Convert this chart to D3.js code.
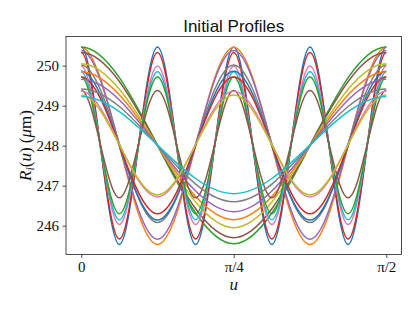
<!DOCTYPE html>
<html>
<head>
<meta charset="utf-8">
<script src="https://cdn.jsdelivr.net/npm/d3@7"></script>
<style>
  body { margin: 0; background: #fff; }
  svg { display: block; }
</style>
</head>
<body>
<svg id="vis" width="419" height="314"></svg>
<script>
'use strict';

// mode number of each profile (number of peaks around the full turn)
var modes = [16, 8, 4, 16, 8, 4, 16, 8, 4, 16, 8, 4, 16, 8, 4, 16, 8, 4, 8, 4];
// value at the peaks (u = 0) and at the troughs, in micrometres
var peaks = [250.47, 250.46, 250.47, 250.33, 250.38, 250.33, 249.99, 250.02, 250.05, 249.85,
             249.86, 249.85, 249.72, 249.72, 249.66, 249.38, 249.36, 249.42, 249.27, 249.23];
var troughs = [245.53, 245.53, 245.55, 245.67, 245.66, 245.70, 246.03, 246.08, 245.95, 246.15,
               246.14, 246.15, 246.30, 246.30, 246.35, 246.70, 246.72, 246.60, 246.77, 246.80];

var xTickValues = [0, Math.PI / 4, Math.PI / 2];
var xTickLabels = ['0', 'π/4', 'π/2'];
var yTickValues = [246, 247, 248, 249, 250];

var colors = ['#1f77b4', '#ff7f0e', '#2ca02c', '#d62728', '#9467bd',
              '#8c564b', '#e377c2', '#7f7f7f', '#bcbd22', '#17becf'];

(function () {
    var plotLeft = 66, plotRight = 401.5, plotTop = 36.5, plotBottom = 254.5;

    var svg = d3.select('#vis');

    var x = d3.scaleLinear()
        .domain([-Math.PI / 40, Math.PI / 2 + Math.PI / 40])
        .range([plotLeft, plotRight]);
    var y = d3.scaleLinear()
        .domain([245.28, 250.73])
        .range([plotBottom, plotTop]);

    // cubic pieces with flat tangents at each point (points are peaks and troughs)
    function flatTurns(context) {
        var x0, y0, started;
        return {
            areaStart: function () {},
            areaEnd: function () {},
            lineStart: function () { started = false; },
            lineEnd: function () {},
            point: function (px, py) {
                if (!started) {
                    context.moveTo(px, py);
                    started = true;
                } else {
                    var dx = (px - x0) / 3;
                    context.bezierCurveTo(x0 + dx, y0, px - dx, py, px, py);
                }
                x0 = px;
                y0 = py;
            }
        };
    }

    var line = d3.line()
        .x(function (d) { return x(d.u); })
        .y(function (d) { return y(d.r); })
        .curve(flatTurns);

    var profiles = modes.map(function (k, i) {
        var pts = [];
        for (var j = 0; j <= k / 2; j++) {
            pts.push({ u: j * Math.PI / k, r: j % 2 ? troughs[i] : peaks[i] });
        }
        return pts;
    });

    svg.append('clipPath').attr('id', 'plot')
        .append('rect')
        .attr('x', plotLeft).attr('y', plotTop)
        .attr('width', plotRight - plotLeft).attr('height', plotBottom - plotTop);

    svg.append('g')
        .attr('clip-path', 'url(#plot)')
        .selectAll('path')
        .data(profiles)
        .enter().append('path')
        .attr('d', line)
        .attr('fill', 'none')
        .attr('stroke', function (d, i) { return colors[i % 10]; })
        .attr('stroke-width', 1.5);

    // frame
    svg.append('rect')
        .attr('x', plotLeft).attr('y', plotTop)
        .attr('width', plotRight - plotLeft).attr('height', plotBottom - plotTop)
        .attr('fill', 'none')
        .attr('stroke', '#222')
        .attr('stroke-width', 0.8);

    var gx = svg.append('g')
        .attr('transform', 'translate(0,' + plotBottom + ')')
        .call(d3.axisBottom(x)
            .tickValues(xTickValues)
            .tickFormat(function (d, i) { return xTickLabels[i]; })
            .tickSize(3.5)
            .tickPadding(3.5));

    var gy = svg.append('g')
        .attr('transform', 'translate(' + plotLeft + ',0)')
        .call(d3.axisLeft(y)
            .tickValues(yTickValues)
            .tickFormat(d3.format('d'))
            .tickSize(3.5)
            .tickPadding(3.5));

    [gx, gy].forEach(function (g) {
        g.select('.domain').remove();
        g.selectAll('line').attr('stroke', '#222').attr('stroke-width', 0.8);
        g.selectAll('text')
            .attr('fill', '#111')
            .style('font-family', '"Liberation Serif", serif')
            .style('font-size', '15px');
    });

    // title
    svg.append('text')
        .attr('x', (plotLeft + plotRight) / 2)
        .attr('y', 31.5)
        .attr('text-anchor', 'middle')
        .style('font-family', '"Liberation Sans", sans-serif')
        .style('font-size', '17px')
        .attr('fill', '#111')
        .text('Initial Profiles');

    // text label for the x axis
    svg.append('text')
        .attr('x', (plotLeft + plotRight) / 2)
        .attr('y', 289.5)
        .attr('text-anchor', 'middle')
        .style('font-family', '"Liberation Serif", serif')
        .style('font-size', '17px')
        .style('font-style', 'italic')
        .attr('fill', '#111')
        .text('u');

    // text label for the y axis
    var yl = svg.append('text')
        .attr('transform', 'translate(31,' + ((plotTop + plotBottom) / 2) + ') rotate(-90)')
        .attr('text-anchor', 'middle')
        .style('font-family', '"Liberation Serif", serif')
        .style('font-size', '17px')
        .attr('fill', '#111');
    yl.append('tspan').style('font-style', 'italic').text('R');
    yl.append('tspan').style('font-style', 'italic').style('font-size', '12px')
        .attr('dy', 3).text('i');
    yl.append('tspan').attr('dy', -3).text('(');
    yl.append('tspan').style('font-style', 'italic').text('u');
    yl.append('tspan').text(') (');
    yl.append('tspan').style('font-style', 'italic').text('μ');
    yl.append('tspan').text('m)');
})();
</script>
</body>
</html>
